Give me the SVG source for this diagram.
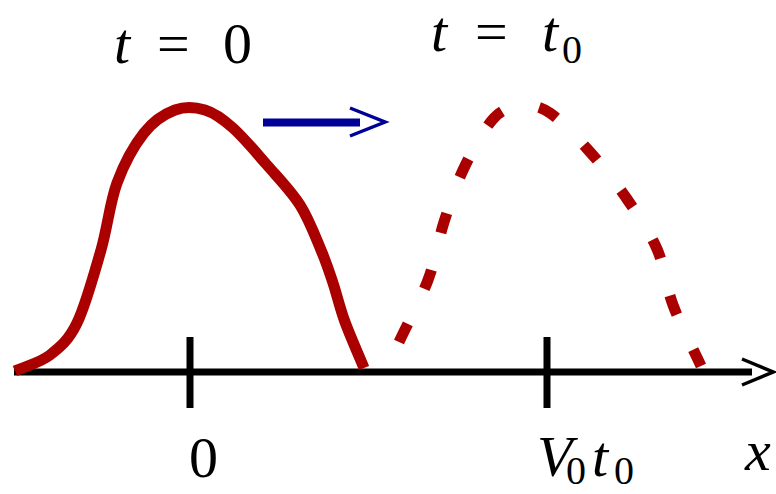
<svg xmlns="http://www.w3.org/2000/svg" width="776" height="494" viewBox="0 0 776 494">
<style>
.lbl{font-family:"Liberation Serif","Times New Roman",serif;font-size:58px;fill:#000}
.it{font-style:italic}
.sub{font-size:40px}
.axis{stroke:#000;stroke-width:7;fill:none}
.head{stroke:#000;stroke-width:3.5;fill:none}
.wave{stroke:#aa0000;stroke-width:11;fill:none;stroke-linejoin:round}
</style>
<rect width="776" height="494" fill="#fff"/>
<g id="connectors">
<g id="x-axis">
<line class="axis" x1="14" y1="372" x2="752" y2="372"/>
<polyline class="head" points="742,359 773,372 742,385"/>
</g>
<g id="motion-arrow">
<line x1="263" y1="122.5" x2="360" y2="122.5" stroke="#000099" stroke-width="8"/>
<polyline points="350,108 385,122 350,136" stroke="#000099" stroke-width="3.5" fill="none"/>
</g>
</g>
<g id="tick-0">
<line class="axis" x1="190" y1="337" x2="190" y2="408"/>
<text class="lbl" x="189" y="477">0</text>
</g>
<g id="tick-v0t0">
<line class="axis" x1="547" y1="337" x2="547" y2="408"/>
<text class="lbl" y="476"><tspan class="it" x="537">V</tspan><tspan class="sub" x="566" dy="8">0</tspan><tspan class="it" x="592" dy="-8">t</tspan><tspan class="sub" x="614" dy="8">0</tspan></text>
</g>
<g id="x-label">
<text class="lbl it" x="745" y="470">x</text>
</g>
<g id="pulse-t0">
<path class="wave" stroke-linecap="butt" d="M15,371 C26.7,365.7 39.7,363 50,355 C60.3,347 68.5,340.5 77,323 C85.5,305.5 94.3,273.3 101,250 C107.7,226.7 109.8,202.5 117,183 C124.2,163.5 134.3,145.2 144,133 C153.7,120.8 164.8,113.8 175,110 C185.2,106.2 195.3,107 205,110 C214.7,113 222.7,118.8 233,128 C243.3,137.2 255.8,152.2 267,165 C278.2,177.8 291,190.8 300,205 C309,219.2 315.5,237 321,250 C326.5,263 329,271 333,283 C337,295 339.8,307.8 345,322 C350.2,336.2 357.7,352.7 364,368"/>
<text class="lbl" y="63"><tspan class="it" x="114">t</tspan><tspan x="157">=</tspan><tspan x="223">0</tspan></text>
</g>
<g id="pulse-t1">
<path class="wave" stroke-width="12" stroke-dasharray="20 38" pathLength="598" d="M399,342 C408.7,321.3 420.5,300 428,280 C435.5,260 438,240.7 444,222 C450,203.3 455.7,185.3 464,168 C472.3,150.7 484.3,128.3 494,118 C503.7,107.7 512.7,106.8 522,106 C531.3,105.2 538.7,105.3 550,113 C561.3,120.7 577.2,137.7 590,152 C602.8,166.3 615.8,182.8 627,199 C638.2,215.2 649.3,231.3 657,249 C664.7,266.7 665.7,285.5 673,305 C680.3,324.5 691.7,345.7 701,366"/>
<text class="lbl" y="51"><tspan class="it" x="431">t</tspan><tspan x="475">=</tspan><tspan class="it" x="542">t</tspan><tspan class="sub" x="562" dy="12">0</tspan></text>
</g>
</svg>
